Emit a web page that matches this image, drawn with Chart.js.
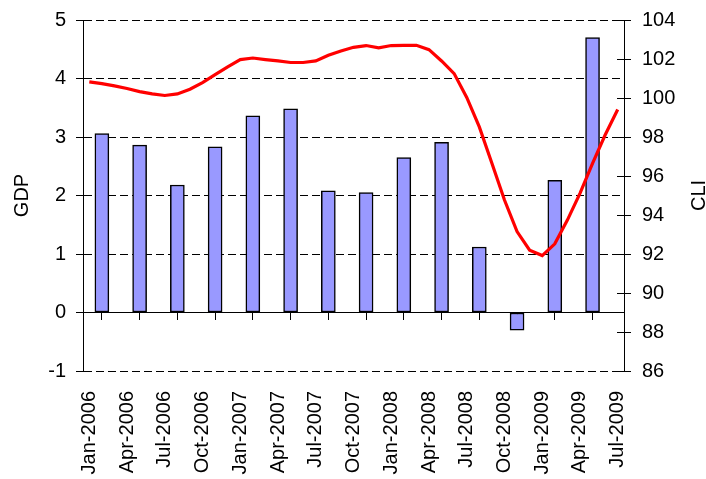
<!DOCTYPE html>
<html><head><meta charset="utf-8">
<script src="https://cdn.jsdelivr.net/npm/chart.js@4"></script>
<style>html,body{margin:0;padding:0;background:#fff}</style>
</head><body>
<canvas id="c" width="706" height="479" style="display:block;width:706px;height:479px"></canvas>
<script>
// X tick labels (every 3rd month, month index from Jan-2006)
const xTickLabels = ['Jan-2006','Apr-2006','Jul-2006','Oct-2006','Jan-2007','Apr-2007','Jul-2007','Oct-2007','Jan-2008','Apr-2008','Jul-2008','Oct-2008','Jan-2009','Apr-2009','Jul-2009'];
const xTickMonths = [0,3,6,9,12,15,18,21,24,27,30,33,36,39,42];
// Quarterly GDP (bar placed at the middle month of each quarter)
const gdpMonths = [1,4,7,10,13,16,19,22,25,28,31,34,37,40];
const gdpValues = [3.06,2.86,2.18,2.83,3.36,3.48,2.08,2.05,2.65,2.91,1.12,-0.30,2.26,4.70];
// Monthly CLI, Jan-2006 .. Jul-2009
const cliValues = [100.83,100.74,100.62,100.49,100.33,100.21,100.13,100.21,100.45,100.79,101.2,101.6,101.97,102.05,101.97,101.9,101.82,101.82,101.9,102.19,102.41,102.6,102.69,102.57,102.69,102.7,102.7,102.48,101.9,101.25,100.03,98.52,96.65,94.77,93.15,92.2,91.92,92.52,93.74,95.11,96.65,98.1,99.41];
// Quarter boundaries (tick marks on the zero line)
const quarterBounds = [2.5,5.5,8.5,11.5,14.5,17.5,20.5,23.5,26.5,29.5,32.5,35.5,38.5,41.5];
const gdpRange = [-1, 5];
const cliRange = [86, 104];

const FONT = '"Liberation Sans", Arial, sans-serif';
Chart.defaults.font.family = FONT;
Chart.defaults.font.size = 20;
Chart.defaults.color = '#000';

const decor = {
  id: 'decor',
  afterDraw(chart) {
    const ctx = chart.ctx, y2 = chart.scales.y2, ca = chart.chartArea;
    ctx.save();
    ctx.strokeStyle = '#000'; ctx.lineWidth = 1;
    y2.ticks.forEach(t => {
      const py = Math.round(y2.getPixelForValue(t.value)) + 0.5;
      ctx.beginPath(); ctx.moveTo(y2.left - 7, py); ctx.lineTo(y2.left, py); ctx.stroke();
    });
    ctx.fillStyle = '#000';
    ctx.font = '20px ' + FONT;
    ctx.textAlign = 'center'; ctx.textBaseline = 'alphabetic';
    const cy = (ca.top + ca.bottom) / 2;
    [['GDP', 28], ['CLI', 705]].forEach(([t, x]) => {
      ctx.save(); ctx.translate(x, cy); ctx.rotate(-Math.PI / 2); ctx.fillText(t, 0, 0); ctx.restore();
    });
    ctx.restore();
  }
};

const fixV = w => s => { s.width = w; s.paddingTop = 20; s.paddingBottom = 0; };

new Chart(document.getElementById('c'), {
  type: 'bar',
  data: {
    datasets: [
      {
        type: 'line', label: 'CLI', order: 0,
        data: cliValues.map((v, i) => ({x: i, y: v})),
        xAxisID: 'x', yAxisID: 'y2',
        borderColor: '#FF0000', borderWidth: 3.2, pointRadius: 0, tension: 0, fill: false
      },
      {
        type: 'bar', label: 'GDP', order: 1,
        data: gdpValues.map((v, i) => ({x: gdpMonths[i], y: v})),
        xAxisID: 'x', yAxisID: 'y',
        backgroundColor: '#9999FF', borderColor: '#000', borderWidth: 1.5,
        barThickness: 14, borderSkipped: false
      }
    ]
  },
  options: {
    responsive: false, animation: false, devicePixelRatio: 1,
    layout: {padding: 0},
    plugins: {legend: {display: false}, tooltip: {enabled: false}},
    scales: {
      x: {
        type: 'linear', position: 'bottom', min: -0.5, max: 42.5, offset: false,
        grid: {display: false, drawTicks: false},
        border: {display: false},
        afterBuildTicks: s => { s.ticks = xTickMonths.map(v => ({value: v})); },
        afterFit: s => { s.height = 108; s.paddingLeft = 0; s.paddingRight = 0; },
        ticks: {autoSkip: false, maxRotation: 90, minRotation: 90, padding: 20,
          callback: (v, i) => xTickLabels[i]}
      },
      xq: {
        type: 'linear', axis: 'x', position: {y: 0}, min: -0.5, max: 42.5, offset: false,
        grid: {drawOnChartArea: false, drawTicks: true, tickLength: 7, tickColor: '#000', color: '#000'},
        border: {display: true, color: '#000', width: 1},
        afterBuildTicks: s => { s.ticks = quarterBounds.map(v => ({value: v})); },
        afterFit: s => { s.paddingLeft = 0; s.paddingRight = 0; },
        ticks: {display: false}
      },
      y: {
        type: 'linear', position: 'left', min: gdpRange[0], max: gdpRange[1],
        ticks: {stepSize: 1, padding: 10},
        grid: {color: '#000', lineWidth: 1, tickLength: 7, tickColor: '#000'},
        border: {display: true, color: '#000', width: 1, dash: [8, 4]},
        afterFit: fixV(83)
      },
      y2: {
        type: 'linear', position: 'right', min: cliRange[0], max: cliRange[1],
        ticks: {stepSize: 2, padding: 11},
        grid: {drawOnChartArea: false, tickLength: 7, tickColor: '#000', color: '#000'},
        border: {display: true, color: '#000', width: 1},
        afterFit: fixV(82)
      }
    }
  },
  plugins: [decor]
});
</script>
</body></html>
